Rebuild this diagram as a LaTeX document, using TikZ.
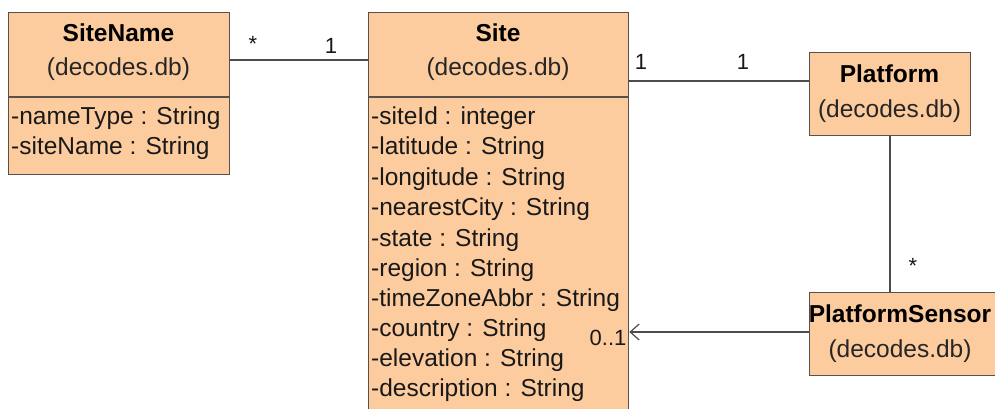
\documentclass[tikz,border=0pt]{standalone}
\usepackage{fontspec}
\setmainfont{Liberation Sans}
\usetikzlibrary{arrows.meta}
\definecolor{boxfill}{HTML}{FDCC9E}
\definecolor{boxline}{HTML}{5A5048}
\begin{document}
\begin{tikzpicture}[x=1pt,y=-1pt,
 classbox/.style={draw=boxline,fill=boxfill,line width=1.3pt,inner sep=0},
 sepline/.style={draw=boxline,line width=1.3pt},
 ctitle/.style={font=\fontsize{24.5}{28}\selectfont\bfseries,text=black,inner sep=0},
 pkg/.style={font=\fontsize{24.5}{28}\selectfont,text=black!85,inner sep=0},
 attr/.style={font=\fontsize{24.5}{28}\selectfont,anchor=west,inner sep=0,text=black!90},
 conn/.style={draw=black!70,line width=1.3pt},
 mult/.style={font=\fontsize{22}{26}\selectfont,inner sep=0,text=black!90}]
\useasboundingbox (0,0) rectangle (995,409);
\clip (0,0) rectangle (995,409);
\fill[white] (0,0) rectangle (995,409);
% SiteName
\node[classbox, minimum width=221pt, minimum height=162pt, anchor=north west] (sn) at (8,12) {};
\draw[sepline] (sn.west |- 0,97) -- (sn.east |- 0,97);
\node[ctitle] (snt) at (118.5,33) {SiteName};
\node[pkg] (snp) at (118.5,69) {(decodes.db)};
\node[attr] (sna1) at (11,118) {-nameType : String};
\node[attr] (sna2) at (11,148) {-siteName : String};
% Site
\node[classbox, minimum width=260pt, minimum height=410pt, anchor=north west] (site) at (368,12) {};
\draw[sepline] (site.west |- 0,97) -- (site.east |- 0,97);
\node[ctitle] (st) at (498,33) {Site};
\node[pkg] (sp) at (498,69) {(decodes.db)};
\node[attr] (sa1) at (371,118) {-siteId : integer};
\node[attr] (sa2) at (371,148) {-latitude : String};
\node[attr] (sa3) at (371,179) {-longitude : String};
\node[attr] (sa4) at (371,209) {-nearestCity : String};
\node[attr] (sa5) at (371,240) {-state : String};
\node[attr] (sa6) at (371,270) {-region : String};
\node[attr] (sa7) at (371,300) {-timeZoneAbbr : String};
\node[attr] (sa8) at (371,330) {-country : String};
\node[attr] (sa9) at (371,360) {-elevation : String};
\node[attr] (sa10) at (371,390) {-description : String};
% Platform
\node[classbox, minimum width=161pt, minimum height=83pt, anchor=north west] (pf) at (809,52) {};
\node[ctitle] (pft) at (889.5,74) {Platform};
\node[pkg] (pfp) at (889.5,111) {(decodes.db)};
% PlatformSensor
\node[classbox, minimum width=190pt, minimum height=83pt, anchor=north west] (ps) at (809,292) {};
\node[ctitle] (pst) at (900,314) {PlatformSensor};
\node[pkg] (psp) at (900,351) {(decodes.db)};
% connectors
\draw[conn] (sn.east |- 0,60) -- (site.west |- 0,60);
\draw[conn] (site.east |- 0,81) -- (pf.west |- 0,81);
\draw[conn] (pf.south -| 890,0) -- (ps.north -| 890,0);
\draw[conn,-{Straight Barb[length=9pt,width=16pt,line width=1.2pt]}] (ps.west |- 0,332) -- (site.east |- 0,332);
% multiplicities
\node[mult] (m1) at (253,44) {*};
\node[mult] (m2) at (331,46) {1};
\node[mult] (m3) at (641,62) {1};
\node[mult] (m4) at (743,62) {1};
\node[mult] (m5) at (913,266) {*};
\node[mult] (m6) at (608,338) {0..1};
\end{tikzpicture}
\end{document}
